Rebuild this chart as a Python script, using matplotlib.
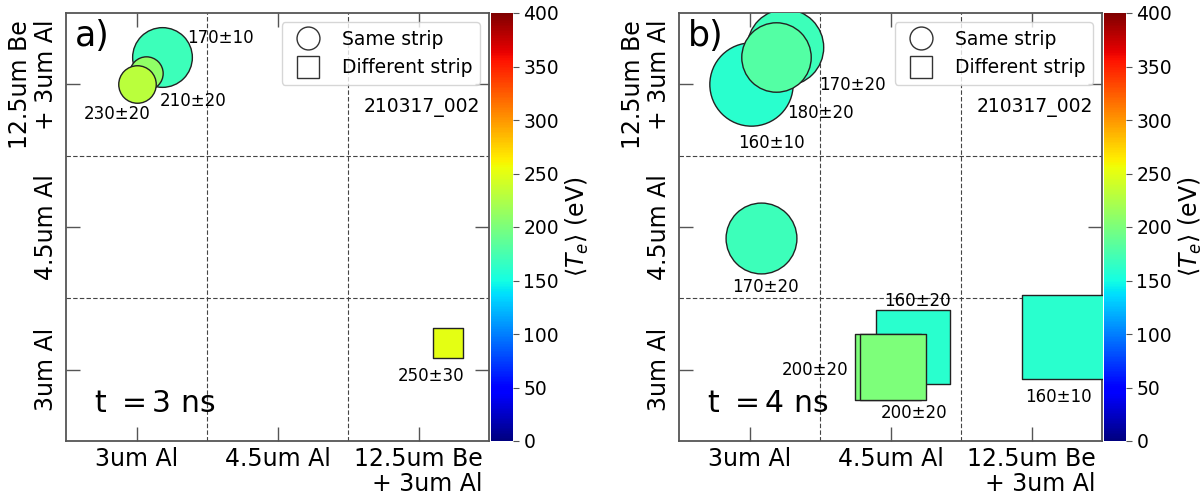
import numpy as np
import matplotlib.pyplot as plt
from matplotlib.lines import Line2D
from matplotlib.cm import ScalarMappable
from matplotlib.colors import Normalize

foils = ['3um Al', '4.5um Al', '12.5um Be\n+ 3um Al']
shot = '210317_002'

# a) t = 3 ns
a_x = [0.68, 0.57, 0.50, 2.71]
a_y = [2.69, 2.58, 2.50, 0.69]
a_te = [170, 210, 230, 250]
a_err = [10, 20, 20, 30]
a_size = [43, 24, 27, 22]      # marker diameter / side (pt)
a_marker = ['o', 'o', 'o', 's']

# b) t = 4 ns
b_x = [0.51, 0.75, 0.69, 0.58, 1.66, 1.48, 1.52, 2.73]
b_y = [2.50, 2.76, 2.69, 1.42, 0.66, 0.52, 0.52, 0.73]
b_te = [160, 170, 180, 170, 160, 200, 200, 160]
b_err = [10, 20, 20, 20, 20, 20, 20, 10]
b_size = [60, 55, 50, 51, 53, 48, 48, 60]
b_marker = ['o', 'o', 'o', 'o', 's', 's', 's', 's']

# label offsets (points) from marker centre
a_off = [(42, 14), (34, -20), (-14, -21), (-12, -24)]
b_off = [(15, -42), (49, -27), (32, -40), (3, -35),
         (3, 33), (-52, -2), (15, -33), (-4, -43)]

norm = Normalize(0, 400)
cmap = plt.get_cmap('jet')
spine_c = '#555555'

fig = plt.figure(figsize=(12.04, 4.95), dpi=100)


def panel(rect, crect, xs, ys, te, err, size, marker, off, tag, t_ns):
    ax = fig.add_axes(rect)
    cax = fig.add_axes(crect)
    ax.set_xlim(0, 3)
    ax.set_ylim(0, 3)

    for i in range(len(xs)):
        ax.scatter(xs[i], ys[i], s=size[i] ** 2, c=[te[i]], cmap=cmap, norm=norm,
                   marker=marker[i], edgecolors='#222222', linewidths=1.0, zorder=3)
        ax.annotate(f'{te[i]}±{err[i]}', (xs[i], ys[i]), xytext=off[i],
                    textcoords='offset points', ha='center', va='center',
                    fontsize=12, zorder=4)

    ax.set_xticks([0.5, 1.5, 2.5], foils)
    ax.set_yticks([0.5, 1.5, 2.5], foils, rotation=90, va='center')
    for lab in ax.get_xticklabels() + ax.get_yticklabels():
        lab.set_multialignment('right')
        lab.set_linespacing(1.1)
    ax.set_xticks([1, 2], minor=True)
    ax.set_yticks([1, 2], minor=True)
    ax.grid(which='minor', ls=(0, (4, 2)), lw=0.8, color='#444444')
    ax.tick_params(which='major', direction='in', top=True, right=True,
                   length=10, width=1, color=spine_c, labelsize=17)
    ax.tick_params(axis='x', pad=4)
    ax.tick_params(axis='y', pad=6)
    ax.tick_params(which='minor', length=0)
    for sp in ax.spines.values():
        sp.set_color(spine_c)
        sp.set_linewidth(1.3)

    handles = [Line2D([], [], ls='none', marker='o', ms=16.5, mfc='white',
                      mec='#333333', mew=1.0),
               Line2D([], [], ls='none', marker='s', ms=16.5, mfc='white',
                      mec='#333333', mew=1.0)]
    ax.legend(handles, ['Same strip', 'Different strip'], loc='upper right',
              fontsize=13.5)
    ax.text(0.979, 0.78, shot, transform=ax.transAxes, ha='right',
            va='center', fontsize=13.5)
    ax.text(0.02, 0.985, tag, transform=ax.transAxes, ha='left', va='top',
            fontsize=25)
    ax.text(0.066, 0.068, 't $= %d$ ns' % t_ns, transform=ax.transAxes,
            ha='left', va='baseline', fontsize=21.5)

    cb = fig.colorbar(ScalarMappable(norm=norm, cmap=cmap), cax=cax)
    cb.outline.set_visible(False)
    cb.set_ticks(np.arange(0, 401, 50))
    cb.ax.tick_params(labelsize=13.5, length=4, color=spine_c)
    cb.set_label(r'$\langle T_e \rangle$ (eV)', fontsize=17, labelpad=3)
    return ax


W, H = 1204, 495
bot = (H - 441) / H
hgt = 428 / H
panel([66 / W, bot, 423 / W, hgt], [491 / W, bot, 22 / W, hgt],
      a_x, a_y, a_te, a_err, a_size, a_marker, a_off, 'a)', 3)
panel([679 / W, bot, 423 / W, hgt], [1104 / W, bot, 22 / W, hgt],
      b_x, b_y, b_te, b_err, b_size, b_marker, b_off, 'b)', 4)

fig.savefig('out.png', dpi=100)
